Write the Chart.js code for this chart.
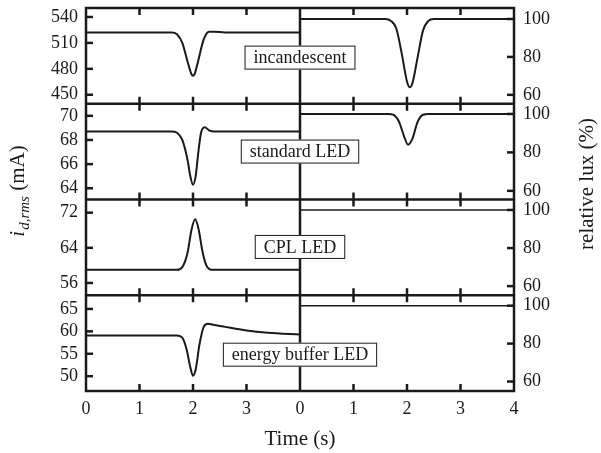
<!DOCTYPE html>
<html lang="en">
<head>
<meta charset="UTF-8">
<title>Voltage dip response</title>
<script src="https://cdn.jsdelivr.net/npm/chart.js"></script>
<style>
    body { margin: 0; background: #fff; }
    canvas { display: block; }
</style>
</head>
<body>
<canvas id="graficoDip" width="601" height="453"></canvas>
<script>
// lamp types, top panel to bottom panel
const lamps = ["incandescent", "standard LED", "CPL LED", "energy buffer LED"];

// left column: rms current (mA) against time (s)
const timeIncCurrent = [0, 1.6, 1.7, 1.8, 1.9, 1.97, 2.0, 2.03, 2.1, 2.2, 2.3, 2.4, 2.6, 4];
const incCurrent = [522, 522, 520, 510, 488, 474, 472, 474, 490, 514, 523, 523, 522, 522];

const timeStdCurrent = [0, 1.6, 1.7, 1.8, 1.9, 1.95, 2.0, 2.05, 2.1, 2.15, 2.22, 2.3, 2.4, 4];
const stdCurrent = [68.7, 68.7, 68.6, 68.0, 66.3, 65.0, 64.3, 65.0, 67.0, 68.6, 69.05, 68.8, 68.7, 68.7];

const timeCplCurrent = [0, 1.7, 1.8, 1.9, 1.97, 2.04, 2.1, 2.18, 2.25, 2.35, 4];
const cplCurrent = [59, 59, 59.6, 63, 68, 70.5, 68.5, 63, 60, 59, 59];

const timeBufCurrent = [0, 1.7, 1.8, 1.88, 1.95, 2.0, 2.05, 2.12, 2.2, 2.28, 2.4, 2.6, 2.8, 3.0, 3.4, 4];
const bufCurrent = [59.1, 59.1, 58.6, 56, 52, 50.1, 51.5, 57, 61, 61.7, 61.4, 61, 60.6, 60.2, 59.7, 59.3];

// right column: relative lux (%) against time (s)
const timeIncLux = [0, 1.6, 1.7, 1.8, 1.9, 2.0, 2.05, 2.1, 2.2, 2.3, 2.4, 2.5, 4];
const incLux = [100, 100, 99, 95, 82, 67, 64, 66, 80, 94, 99, 100, 100];

const timeStdLux = [0, 1.65, 1.75, 1.85, 1.95, 2.02, 2.1, 2.2, 2.3, 2.4, 4];
const stdLux = [100, 100, 99.5, 96, 88, 84, 87, 96, 99.6, 100, 100];

const timeCplLux = [0, 4];
const cplLux = [100, 100];

const timeBufLux = [0, 4];
const bufLux = [100, 100];

// axis ticks and ranges
const timeTicks = [0, 1, 2, 3, 4];
const currentTicks = [[450, 480, 510, 540], [64, 66, 68, 70], [56, 64, 72], [50, 55, 60, 65]];
const currentRanges = [[439.6, 550.4], [63.07, 71], [53.2, 75], [46.7, 68.05]];
const luxTicks = [60, 80, 100];
const luxRanges = [[55.3, 105.8], [55.5, 105.3], [55.2, 105.5], [55, 105.5]];
// height of each lamp label box, in units of the left axis
const labelLevels = [493, 67.04, 64.2, 54.8];

document.addEventListener("DOMContentLoaded", function () {
    const canvas = document.getElementById("graficoDip");
    if (!canvas) {
        console.error("Error: canvas not found.");
        return;
    }

    const serif = "'Liberation Serif', 'Times New Roman', serif";
    const ink = "#1a1a1a";
    const tickFont = { family: serif, size: 18 };

    const currentSeries = [
        [timeIncCurrent, incCurrent], [timeStdCurrent, stdCurrent],
        [timeCplCurrent, cplCurrent], [timeBufCurrent, bufCurrent]
    ];
    const luxSeries = [
        [timeIncLux, incLux], [timeStdLux, stdLux],
        [timeCplLux, cplLux], [timeBufLux, bufLux]
    ];

    const toPoints = (t, v) => t.map((x, i) => ({ x: x, y: v[i] }));

    const datasets = [];
    lamps.forEach((lamp, i) => {
        datasets.push({
            label: lamp + " current",
            data: toPoints(currentSeries[i][0], currentSeries[i][1]),
            xAxisID: "xL", yAxisID: "yL" + i,
            borderColor: ink, borderWidth: 2, pointRadius: 0,
            cubicInterpolationMode: "monotone"
        });
        datasets.push({
            label: lamp + " lux",
            data: toPoints(luxSeries[i][0], luxSeries[i][1]),
            xAxisID: "xR", yAxisID: "yR" + i,
            borderColor: ink, borderWidth: luxSeries[i][0].length > 2 ? 2 : 1.5, pointRadius: 0,
            cubicInterpolationMode: "monotone"
        });
    });

    // no extra room for labels that overhang the ends of an axis
    const noOverhang = s => {
        s.paddingTop = 0;
        s.paddingBottom = 0;
        s.paddingLeft = 0;
        s.paddingRight = 0;
    };

    const scales = {};
    ["xL", "xR"].forEach((id, k) => {
        scales[id] = {
            type: "linear", position: "bottom", stack: "time", stackWeight: 1, weight: k + 1,
            min: 0, max: 4,
            afterBuildTicks: s => { s.ticks = timeTicks.map(v => ({ value: v })); },
            afterFit: s => { s.height = 62; noOverhang(s); },
            grid: { display: false, drawTicks: false },
            border: { display: false },
            ticks: {
                padding: 7, color: ink, font: tickFont, autoSkip: false, maxRotation: 0,
                callback: v => (id === "xL" && v === 4) ? "" : v
            }
        };
    });
    lamps.forEach((lamp, i) => {
        scales["yL" + i] = {
            type: "linear", position: "left", stack: "current", stackWeight: 1, weight: 4 - i,
            min: currentRanges[i][0], max: currentRanges[i][1],
            afterBuildTicks: s => { s.ticks = currentTicks[i].map(v => ({ value: v })); },
            afterFit: s => { s.width = 86; noOverhang(s); },
            grid: { display: false, drawTicks: false },
            border: { display: false },
            ticks: { padding: 8, color: ink, font: tickFont, autoSkip: false }
        };
        scales["yR" + i] = {
            type: "linear", position: "right", stack: "lux", stackWeight: 1, weight: i + 1,
            min: luxRanges[i][0], max: luxRanges[i][1],
            afterBuildTicks: s => { s.ticks = luxTicks.map(v => ({ value: v })); },
            afterFit: s => { s.width = 87; noOverhang(s); },
            grid: { display: false, drawTicks: false },
            border: { display: false },
            ticks: { padding: 9, color: ink, font: tickFont, autoSkip: false }
        };
    });

    // frame, inward ticks, lamp labels and axis titles
    const frame = {
        id: "frame",
        afterDatasetsDraw(chart) {
            const ctx = chart.ctx;
            const area = chart.chartArea;
            const line = (x1, y1, x2, y2) => {
                ctx.beginPath();
                ctx.moveTo(x1, y1);
                ctx.lineTo(x2, y2);
                ctx.stroke();
            };
            ctx.save();
            ctx.strokeStyle = ink;
            ctx.lineWidth = 2.5;

            ["xL", "xR"].forEach(id => {
                const sx = chart.scales[id];
                lamps.forEach((lamp, i) => {
                    const sy = chart.scales["yL" + i];
                    timeTicks.forEach(v => {
                        if (v === sx.min || v === sx.max) return;
                        const px = sx.getPixelForValue(v);
                        line(px, sy.top, px, sy.top + 7);
                        line(px, sy.bottom, px, sy.bottom - 7);
                    });
                });
            });
            lamps.forEach((lamp, i) => {
                const sl = chart.scales["yL" + i];
                currentTicks[i].forEach(v => {
                    const py = sl.getPixelForValue(v);
                    line(area.left, py, area.left + 7, py);
                });
                const sr = chart.scales["yR" + i];
                luxTicks.forEach(v => {
                    const py = sr.getPixelForValue(v);
                    line(area.right - 7, py, area.right, py);
                });
                if (i > 0) line(area.left, sl.top, area.right, sl.top);
            });
            const divider = chart.scales.xR.left;
            line(divider, area.top, divider, area.bottom);
            ctx.strokeRect(area.left, area.top, area.right - area.left, area.bottom - area.top);

            // lamp name boxes across the divider
            ctx.font = "18px " + serif;
            ctx.textAlign = "center";
            ctx.textBaseline = "middle";
            ctx.lineWidth = 1;
            lamps.forEach((lamp, i) => {
                const py = chart.scales["yL" + i].getPixelForValue(labelLevels[i]);
                const w = ctx.measureText(lamp).width + 18;
                ctx.fillStyle = "#fff";
                ctx.fillRect(divider - w / 2, py - 12, w, 24);
                ctx.strokeRect(divider - w / 2 + 0.5, py - 11.5, w - 1, 23);
                ctx.fillStyle = ink;
                ctx.fillText(lamp, divider, py + 1);
            });

            // x title
            ctx.font = "21px " + serif;
            ctx.fillText("Time (s)", (area.left + area.right) / 2, 439);

            // right title
            ctx.save();
            ctx.translate(587, 184);
            ctx.rotate(-Math.PI / 2);
            ctx.fillText("relative lux (%)", 0, 0);
            ctx.restore();

            // left title with italic subscript
            ctx.save();
            ctx.translate(18, 191.5);
            ctx.rotate(-Math.PI / 2);
            ctx.textAlign = "left";
            ctx.textBaseline = "alphabetic";
            const fMain = "italic 21px " + serif;
            const fSub = "italic 15px " + serif;
            const fRest = "21px " + serif;
            ctx.font = fMain; const wMain = ctx.measureText("i").width;
            ctx.font = fSub; const wSub = ctx.measureText("d,rms").width;
            ctx.font = fRest; const wRest = ctx.measureText(" (mA)").width;
            let x0 = -(wMain + wSub + wRest) / 2;
            ctx.font = fMain; ctx.fillText("i", x0, 6); x0 += wMain + 1;
            ctx.font = fSub; ctx.fillText("d,rms", x0, 11); x0 += wSub;
            ctx.font = fRest; ctx.fillText(" (mA)", x0, 6);
            ctx.restore();

            ctx.restore();
        }
    };

    new Chart(canvas.getContext("2d"), {
        type: "line",
        data: { datasets: datasets },
        options: {
            responsive: false,
            animation: false,
            devicePixelRatio: 1,
            layout: { padding: { top: 8, left: 0, right: 0, bottom: 0 } },
            plugins: { legend: { display: false }, tooltip: { enabled: false } },
            scales: scales
        },
        plugins: [frame]
    });
});
</script>
</body>
</html>
